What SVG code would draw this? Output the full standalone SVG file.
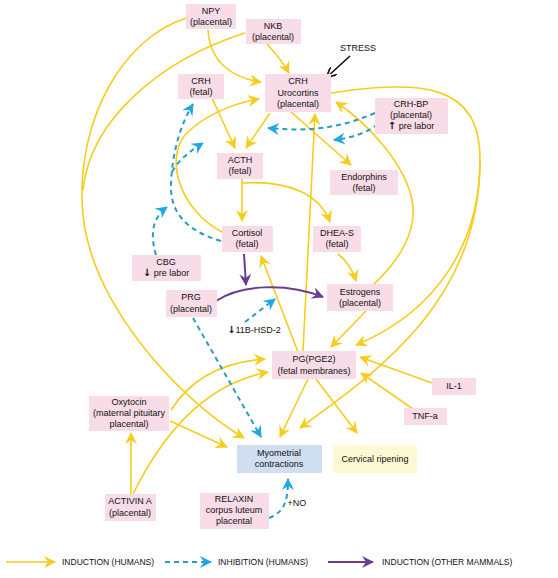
<svg xmlns="http://www.w3.org/2000/svg" width="558" height="578" viewBox="0 0 558 578">
<style>
.n rect{fill:#f8dce7}
text{font-family:"Liberation Sans",Arial,sans-serif;font-size:9px;fill:#111;text-anchor:middle}
.ar{font-family:"DejaVu Sans",sans-serif;font-weight:bold;font-size:10px}
.y{fill:none;stroke:#f6cd1c;stroke-width:1.6;marker-end:url(#ay)}
.yn{fill:none;stroke:#f6cd1c;stroke-width:1.6}
.b{fill:none;stroke:#2a9cc0;stroke-width:2;stroke-dasharray:5,4;marker-end:url(#ab)}
.p{fill:none;stroke:#6a3e8e;stroke-width:2;marker-end:url(#ap)}
.k{fill:none;stroke:#111;stroke-width:1.6;marker-end:url(#ak)}
</style>
<defs>
<marker id="ay" viewBox="0 0 12 12" refX="11" refY="6" markerWidth="12" markerHeight="12" markerUnits="userSpaceOnUse" orient="auto"><path d="M0,0 L12,6 L0,12 L4,6 z" fill="#f6cd1c"/></marker>
<marker id="ab" viewBox="0 0 12 12" refX="11" refY="6" markerWidth="12" markerHeight="12" markerUnits="userSpaceOnUse" orient="auto"><path d="M0,0 L12,6 L0,12 L4,6 z" fill="#1ea8e4"/></marker>
<marker id="ap" viewBox="0 0 12 12" refX="11" refY="6" markerWidth="12" markerHeight="12" markerUnits="userSpaceOnUse" orient="auto"><path d="M0,0 L12,6 L0,12 L4,6 z" fill="#6a3e8e"/></marker>
<marker id="ak" viewBox="0 0 12 12" refX="11" refY="6" markerWidth="10" markerHeight="10" markerUnits="userSpaceOnUse" orient="auto"><path d="M0,0 L12,6 L0,12" fill="none" stroke="#111" stroke-width="2"/></marker>
</defs>
<rect width="558" height="578" fill="#fff"/>
<g id="connectors">
<path class="y" d="M208,30 C210,62 232,78 261,82"/>
<path class="y" d="M267,44 C276,54 283,62 289,73"/>
<path class="y" d="M186,18 C120,40 80,120 82,200 C84,300 180,400 244,438"/>
<path class="yn" d="M245,33 C160,60 90,120 83,190"/>
<path class="y" d="M212,98 L235,148"/>
<path class="y" d="M270,113 L246,148"/>
<path class="y" d="M290,111 L351,165"/>
<path class="y" d="M222,232 C180,210 165,160 185,135 C205,114 235,103 259,99"/>
<path class="y" d="M242,179 L242,221"/>
<path class="y" d="M242,183 C290,180 320,195 330,222"/>
<path class="y" d="M338,254 C346,260 352,268 356,281"/>
<path class="y" d="M373,285 C400,260 418,230 412,200 C405,165 370,125 336,102"/>
<path class="y" d="M366,311 L331,347"/>
<path class="y" d="M331,93 C420,80 480,82 480,160 C480,240 440,310 356,345"/>
<path class="y" d="M480,160 C480,300 380,370 300,428"/>
<path class="y" d="M303,351 L315,114"/>
<path class="y" d="M298,352 L261,256"/>
<path class="y" d="M308,379 L280,437"/>
<path class="y" d="M316,379 L357,433"/>
<path class="y" d="M432,383 L360,357"/>
<path class="y" d="M413,409 L361,373"/>
<path class="y" d="M171,410 C190,380 220,362 265,359"/>
<path class="y" d="M170,421 L227,447"/>
<path class="y" d="M131,494 L131,433"/>
<path class="y" d="M133,494 C160,440 200,385 268,372"/>
<path class="b" d="M375,113 C340,128 310,132 268,128"/>
<path class="b" d="M378,124 C365,134 350,138 334,140"/>
<path class="b" d="M156,255 C150,235 152,218 167,207"/>
<path class="b" d="M221,241 C190,232 170,215 171,185 C172,150 182,122 193,104"/>
<path class="b" d="M172,172 C180,158 192,150 203,143"/>
<path class="b" d="M193,318 L261,437"/>
<path class="b" d="M245,322 L275,299"/>
<path class="b" d="M269,518 C285,512 288,500 288,479"/>
<path class="p" d="M244,254 L246,285"/>
<path class="p" d="M216,301 C240,285 285,282 323,297"/>
<path class="k" d="M350,56 L327,77"/>
</g>
<g id="NPY" class="n"><rect x="186" y="4" width="50" height="25"/><text x="211" y="14">NPY</text><text x="211" y="25">(placental)</text></g>
<g id="NKB" class="n"><rect x="246" y="19" width="55" height="25"/><text x="273" y="29">NKB</text><text x="273" y="40">(placental)</text></g>
<g id="STRESS"><text x="358" y="51">STRESS</text></g>
<g id="CRHU" class="n"><rect x="265" y="74" width="66" height="38"/><text x="298" y="84">CRH</text><text x="298" y="96">Urocortins</text><text x="298" y="107">(placental)</text></g>
<g id="CRHF" class="n"><rect x="178" y="74" width="46" height="25"/><text x="201" y="84">CRH</text><text x="201" y="95">(fetal)</text></g>
<g id="CRHBP" class="n"><rect x="375" y="98" width="73" height="36"/><text x="411" y="107">CRH-BP</text><text x="411" y="118">(placental)</text><text x="411" y="129"><tspan class="ar">↑</tspan> pre labor</text></g>
<g id="ACTH" class="n"><rect x="217" y="153" width="46" height="26"/><text x="240" y="163">ACTH</text><text x="240" y="174">(fetal)</text></g>
<g id="Endorphins" class="n"><rect x="330" y="170" width="68" height="25"/><text x="364" y="180">Endorphins</text><text x="364" y="191">(fetal)</text></g>
<g id="Cortisol" class="n"><rect x="222" y="226" width="51" height="26"/><text x="247" y="236">Cortisol</text><text x="247" y="247">(fetal)</text></g>
<g id="DHEAS" class="n"><rect x="313" y="226" width="48" height="26"/><text x="337" y="236">DHEA-S</text><text x="337" y="247">(fetal)</text></g>
<g id="CBG" class="n"><rect x="132" y="255" width="69" height="26"/><text x="166" y="265">CBG</text><text x="166" y="276"><tspan class="ar">↓</tspan> pre labor</text></g>
<g id="PRG" class="n"><rect x="166" y="290" width="51" height="27"/><text x="191" y="300">PRG</text><text x="191" y="312">(placental)</text></g>
<g id="Estrogens" class="n"><rect x="327" y="284" width="66" height="27"/><text x="360" y="295">Estrogens</text><text x="360" y="306">(placental)</text></g>
<g id="HSD"><text x="254" y="333"><tspan class="ar">↓</tspan>11B-HSD-2</text></g>
<g id="PG" class="n"><rect x="272" y="351" width="84" height="28"/><text x="314" y="362">PG(PGE2)</text><text x="314" y="374">(fetal membranes)</text></g>
<g id="IL1" class="n"><rect x="432" y="378" width="44" height="17"/><text x="454" y="389">IL-1</text></g>
<g id="TNFa" class="n"><rect x="404" y="408" width="43" height="17"/><text x="425" y="419">TNF-a</text></g>
<g id="Oxytocin" class="n"><rect x="89" y="396" width="80" height="35"/><text x="129" y="405">Oxytocin</text><text x="129" y="416">(maternal pituitary</text><text x="129" y="427">placental)</text></g>
<g id="Myometrial"><rect x="237" y="445" width="85" height="28" fill="#cfdef1"/><text x="279" y="456">Myometrial</text><text x="279" y="467">contractions</text></g>
<g id="Cervical"><rect x="333" y="445" width="84" height="28" fill="#fdf9d2"/><text x="375" y="462">Cervical ripening</text></g>
<g id="ActivinA" class="n"><rect x="105" y="494" width="51" height="27"/><text x="130" y="504">ACTIVIN A</text><text x="130" y="516">(placental)</text></g>
<g id="Relaxin" class="n"><rect x="200" y="493" width="69" height="36"/><text x="234" y="502">RELAXIN</text><text x="234" y="513">corpus luteum</text><text x="234" y="524">placental</text></g>
<g id="NO"><text x="297" y="506">+NO</text></g>
<g id="legend">
<path class="y" d="M6,562 L55,562"/>
<text x="62" y="565" style="text-anchor:start;font-size:8.5px">INDUCTION (HUMANS)</text>
<path class="b" d="M165,562 L211,562"/>
<text x="218" y="565" style="text-anchor:start;font-size:8.5px">INHIBITION (HUMANS)</text>
<path class="p" d="M328,562 L373,562"/>
<text x="382" y="565" style="text-anchor:start;font-size:8.5px">INDUCTION (OTHER MAMMALS)</text>
</g>
</svg>
